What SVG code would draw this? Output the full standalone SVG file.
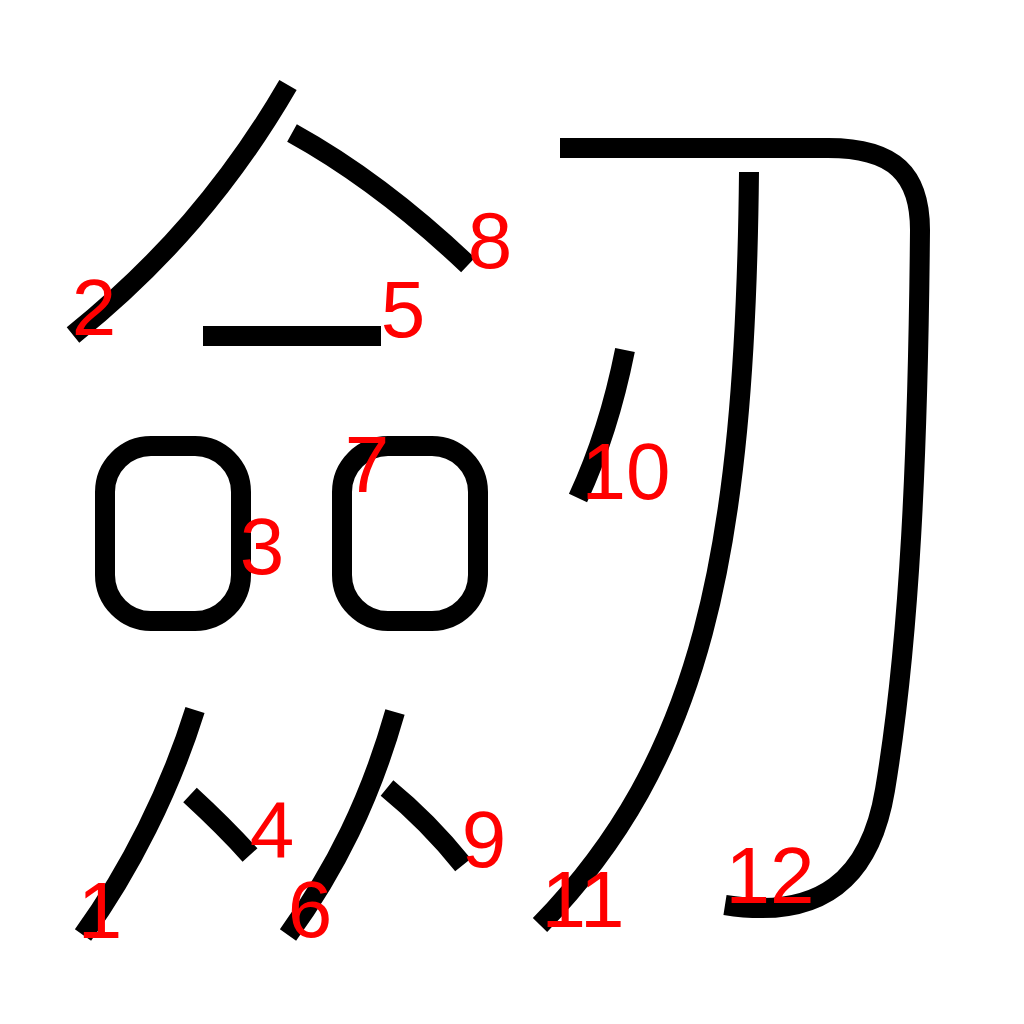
<svg xmlns="http://www.w3.org/2000/svg" width="1024" height="1024" viewBox="0 0 1024 1024">
<style>
.s{fill:none;stroke:#000;stroke-width:20;}
.n{fill:#ff0000;font-family:"Liberation Sans",Arial,sans-serif;font-size:80px;text-anchor:middle;}
</style>
<rect width="1024" height="1024" fill="#fff"/>
<g id="strokes">
<path id="s1" class="s" d="M195,710 C170,790 130,870 83,935"/>
<path id="s2" class="s" d="M288,85 C230,185 160,265 73,335"/>
<rect id="s3" class="s" x="105" y="446" width="136" height="175" rx="46"/>
<path id="s4" class="s" d="M190,795 C215,818 232,835 250,855"/>
<path id="s5" class="s" d="M203,336 H381"/>
<path id="s6" class="s" d="M395,712 C370,800 335,870 288,935"/>
<rect id="s7" class="s" x="342" y="446" width="136" height="175" rx="46"/>
<path id="s8" class="s" d="M292,133 C350,165 410,210 468,265"/>
<path id="s9" class="s" d="M387,788 C420,815 443,840 463,865"/>
<path id="s10" class="s" d="M625,350 C613,410 598,455 578,498"/>
<path id="s11" class="s" d="M749,172 C745,560 700,760 540,925"/>
<path id="s12" class="s" d="M560,148 H828 C895,148 920,175 920,230 C918,450 910,640 885,790 C870,880 820,920 725,905"/>
</g>
<g id="labels">
<text class="n" x="100" y="938">1</text>
<text class="n" x="94" y="335">2</text>
<text class="n" x="262" y="574">3</text>
<text class="n" x="272" y="857">4</text>
<text class="n" x="403" y="337">5</text>
<text class="n" x="310" y="937">6</text>
<text class="n" x="367" y="492">7</text>
<text class="n" x="490" y="268">8</text>
<text class="n" x="484" y="867">9</text>
<text class="n" x="626" y="499">10</text>
<text class="n" x="583" y="927">11</text>
<text class="n" x="770" y="903">12</text>
</g>
</svg>
